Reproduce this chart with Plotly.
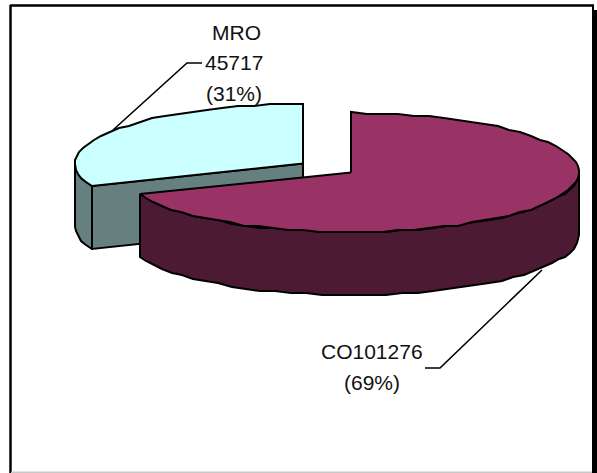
import numpy as np
import plotly.graph_objects as go

# data
labels = ["CO", "MRO"]
values = [101276, 45717]
label_lines = [["CO101276", "(69%)"], ["MRO", "45717", "(31%)"]]

# styles / layout of the tilted pie
W, H = 597, 473
RX, RY, DEPTH = 228, 59.5, 63
centers = [(351, 172.5), (303, 163.5)]
top_colors = ["#993366", "#CCFFFF"]
side_colors = ["#4D1A33", "#668080"]

total = sum(values)
angles = np.cumsum([0] + values) / total * 360.0


def arc(cx, cy, a0, a1, step=4.0):
    n = max(2, int(abs(a1 - a0) / step) + 1)
    t = np.radians(np.linspace(a0, a1, n))
    x = np.round(cx + RX * np.sin(t))
    y = np.round((cy - RY * np.cos(t)) / 2) * 2
    return x.tolist(), y.tolist()


def poly(fig, xs, ys, fill):
    fig.add_trace(go.Scatter(
        x=xs, y=ys, mode="lines", fill="toself", fillcolor=fill,
        line=dict(color="black", width=2), hoverinfo="skip", showlegend=False))


fig = go.Figure()

# MRO slice (behind)
cx, cy = centers[1]
a0, a1 = angles[1], angles[2]
# outer rim visible from the cut to the left extreme
ax, ay = arc(cx, cy, a0, 270)
poly(fig, ax + ax[::-1] + [ax[0]], ay + [v + DEPTH for v in ay[::-1]] + [ay[0]], side_colors[1])
# cut face in front
ex, ey = arc(cx, cy, a0, a0)
poly(fig, [ex[0], cx, cx, ex[0], ex[0]],
     [ey[0], cy, cy + DEPTH, ey[0] + DEPTH, ey[0]], side_colors[1])
# top
ax, ay = arc(cx, cy, a0, a1)
poly(fig, [cx] + ax + [cx], [cy] + ay + [cy], top_colors[1])

# CO slice (front)
cx, cy = centers[0]
a0, a1 = angles[0], angles[1]
ax, ay = arc(cx, cy, 90, a1)
poly(fig, ax + ax[::-1] + [ax[0]], ay + [v + DEPTH for v in ay[::-1]] + [ay[0]], side_colors[0])
ax, ay = arc(cx, cy, a0, a1)
poly(fig, [cx] + ax + [cx], [cy] + ay + [cy], top_colors[0])

# leader lines
leaders = [([113, 187, 202], [130, 63, 63]), ([542, 440, 425], [270, 368, 368])]
for lx, ly in leaders:
    fig.add_trace(go.Scatter(x=lx, y=ly, mode="lines", line=dict(color="black", width=1.6),
                             hoverinfo="skip", showlegend=False))

# text labels
text_pos = [[(372, 351), (372, 382)], [(236, 32.5), (234, 62.5), (234, 93)]]
for lines, pos in zip(label_lines, text_pos):
    for s, (px, py) in zip(lines, pos):
        fig.add_annotation(x=px, y=py, text=s, showarrow=False, xanchor="center", yanchor="middle",
                           font=dict(family="Liberation Sans", size=21, color="#111111"))

# frame with drop shadow on the right
frame = [
    dict(type="line", x0=10.5, x1=10.5, y0=5, y1=473, line=dict(color="black", width=2.5)),
    dict(type="line", x0=10, x1=594, y0=5.5, y1=5.5, line=dict(color="black", width=2.5)),
    dict(type="rect", x0=592, x1=594, y0=5, y1=10, fillcolor="black", line=dict(width=0)),
    dict(type="rect", x0=592, x1=597, y0=10, y1=473, fillcolor="black", line=dict(width=0)),
    dict(type="line", x0=11, x1=592, y0=472.3, y1=472.3, line=dict(color="#C8C8C8", width=1.5)),
]

fig.update_layout(
    width=W, height=H, margin=dict(l=0, r=0, t=0, b=0),
    paper_bgcolor="white", plot_bgcolor="white", showlegend=False, shapes=frame,
    xaxis=dict(range=[0, W], visible=False, fixedrange=True),
    yaxis=dict(range=[H, 0], visible=False, fixedrange=True),
)
fig.write_html("out.html", post_script="document.body.style.margin='0';document.body.style.overflow='hidden';",
               config=dict(displayModeBar=False))
